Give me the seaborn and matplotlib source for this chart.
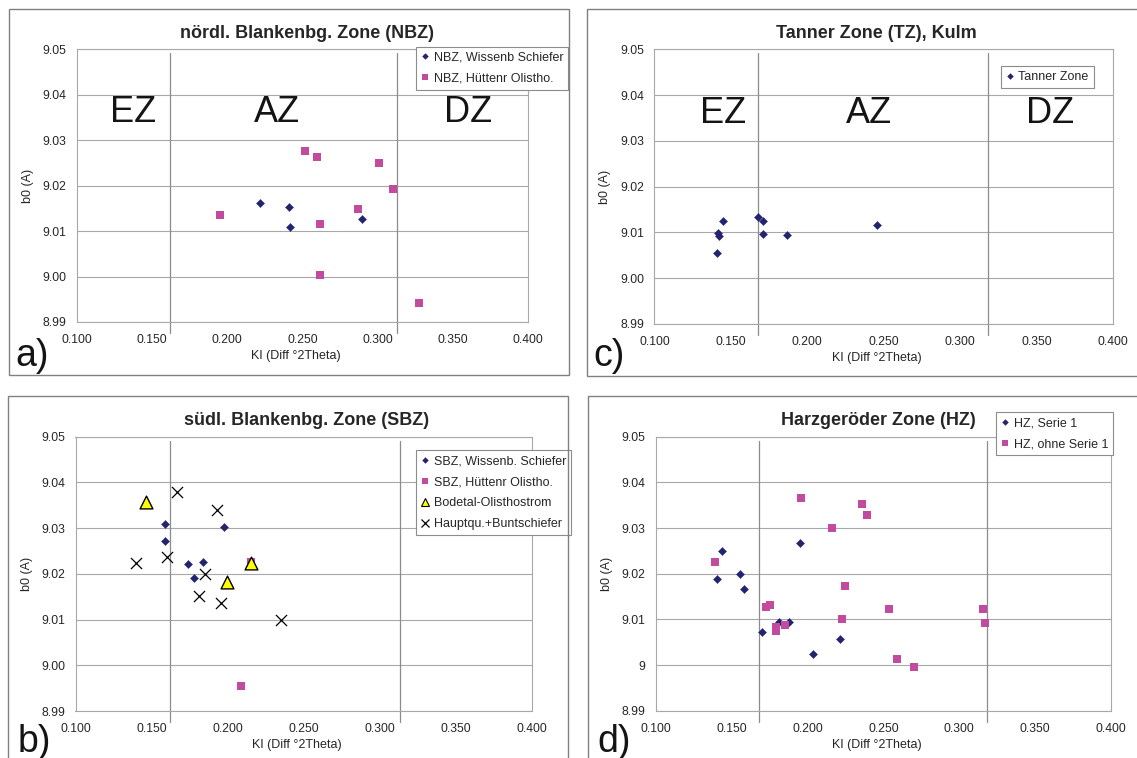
import numpy as np
import pandas as pd
import matplotlib
matplotlib.use("Agg")
import matplotlib.pyplot as plt
import seaborn as sns
from matplotlib.lines import Line2D
from matplotlib.patches import Rectangle

# ---------------- data ----------------
nbz_wiss_ki = [0.2217, 0.2409, 0.2418, 0.2896]
nbz_wiss_b0 = [9.0161, 9.0154, 9.0110, 9.0126]
nbz_huett_ki = [0.1951, 0.2517, 0.2594, 0.2618, 0.2618, 0.2867, 0.3011, 0.3099, 0.3272]
nbz_huett_b0 = [9.0136, 9.0277, 9.0264, 9.0116, 9.0004, 9.0149, 9.0250, 9.0192, 8.9942]

tz_ki = [0.1412, 0.1418, 0.1420, 0.1447, 0.1680, 0.1713, 0.1713, 0.1866, 0.2458]
tz_b0 = [9.0054, 9.0098, 9.0093, 9.0126, 9.0133, 9.0126, 9.0097, 9.0094, 9.0116]

sbz_wiss_ki = [0.1589, 0.1589, 0.1740, 0.1841, 0.1780, 0.1977]
sbz_wiss_b0 = [9.0308, 9.0272, 9.0222, 9.0225, 9.0192, 9.0302]
sbz_huett_ki = [0.2090, 0.2153]
sbz_huett_b0 = [8.9955, 9.0227]
bodetal_ki = [0.1464, 0.1999, 0.2153]
bodetal_b0 = [9.0358, 9.0183, 9.0223]
haupt_ki = [0.1396, 0.1604, 0.1670, 0.1854, 0.1815, 0.1933, 0.1955, 0.2351]
haupt_b0 = [9.0224, 9.0237, 9.0378, 9.0199, 9.0152, 9.0340, 9.0136, 9.0099]

hz1_ki = [0.1434, 0.1403, 0.1557, 0.1581, 0.1698, 0.1814, 0.1878, 0.1950, 0.2038, 0.2212]
hz1_b0 = [9.0250, 9.0188, 9.0200, 9.0167, 9.0073, 9.0095, 9.0095, 9.0268, 9.0024, 9.0058]
hz2_ki = [0.1386, 0.1724, 0.1752, 0.1792, 0.1795, 0.1848, 0.1958, 0.2159, 0.2246, 0.2226,
          0.2361, 0.2392, 0.2536, 0.2591, 0.2699, 0.3155, 0.3170]
hz2_b0 = [9.0225, 9.0128, 9.0132, 9.0084, 9.0074, 9.0087, 9.0366, 9.0301, 9.0172, 9.0101,
          9.0353, 9.0328, 9.0122, 9.0013, 8.9995, 9.0122, 9.0093]

x_ticks = [0.100, 0.150, 0.200, 0.250, 0.300, 0.350, 0.400]
y_ticks = [8.99, 9.00, 9.01, 9.02, 9.03, 9.04, 9.05]
y_labels_std = ["8.99", "9.00", "9.01", "9.02", "9.03", "9.04", "9.05"]
y_labels_hz = ["8.99", "9", "9.01", "9.02", "9.03", "9.04", "9.05"]
zone_names = ["EZ", "AZ", "DZ"]

# ---------------- style ----------------
sns.set_style("white")
plt.rcParams["font.family"] = ["Liberation Sans", "DejaVu Sans"]

NAVY = "#23236F"
MAG = "#C24A9F"
YEL = "#FFFF00"
GRID = "#A8A8A8"
FRAME = "#808080"

W, H = 1137, 758
fig = plt.figure(figsize=(W / 100, H / 100), dpi=100)


def add_axes_px(left, right, top, bottom):
    return fig.add_axes([left / W, 1 - bottom / H, (right - left) / W, (bottom - top) / H])


def style(ax, wpx, hpx, ylabels, zone_lines, zone_text_x, title, title_x, leg_handles, leg_anchor):
    ax.set_xlim(0.1, 0.4)
    ax.set_ylim(8.99, 9.05)
    ax.set_xticks(x_ticks)
    ax.set_xticklabels([f"{v:.3f}" for v in x_ticks], fontsize=8.7)
    ax.set_yticks(y_ticks)
    ax.set_yticklabels(ylabels, fontsize=8.7)
    ax.tick_params(axis="both", direction="out", length=3, width=0.8, color=GRID, pad=4.5)
    ax.tick_params(axis="x", pad=5.5)
    ax.yaxis.grid(True, color=GRID, lw=0.8)
    ax.xaxis.grid(False)
    ax.set_axisbelow(True)
    for sp in ax.spines.values():
        sp.set_color(GRID)
        sp.set_linewidth(0.8)
    for zx in zone_lines:
        ax.axvline(zx, ymin=-0.04, ymax=0.985, color="#8C8C8C", lw=0.9, clip_on=False, zorder=1)
    for name, tx in zip(zone_names, zone_text_x):
        ax.text(tx, 9.036, name, fontsize=26, ha="center", va="center", color="#141414")
    ax.text(title_x, 1 + 16 / hpx, title, transform=ax.transAxes, ha="center", va="center",
            fontsize=13, fontweight="bold")
    ax.set_xlabel("KI (Diff °2Theta)", fontsize=9)
    ax.xaxis.set_label_coords(0.485, -28 / hpx)
    ax.set_ylabel("b0 (A)", fontsize=9)
    ax.yaxis.set_label_coords(-43 / wpx, 0.5)
    leg = ax.legend(handles=leg_handles, loc="upper left", bbox_to_anchor=leg_anchor,
                    frameon=True, fancybox=False, edgecolor="#8C8C8C", framealpha=1,
                    fontsize=9, borderpad=0.4, labelspacing=0.72, handlelength=0.6,
                    handletextpad=0.4, borderaxespad=0)
    leg.get_frame().set_linewidth(0.8)
    leg.set_zorder(10)


def h_diamond(label):
    return Line2D([], [], marker="D", color=NAVY, linestyle="none", markersize=3.3,
                  markeredgewidth=0, label=label)


def h_square(label):
    return Line2D([], [], marker="s", color=MAG, linestyle="none", markersize=5,
                  markeredgewidth=0, label=label)


DS = 17   # diamond size
SS = 39   # square size

# ---------------- panel a ----------------
ax_a = add_axes_px(77, 528, 49.3, 322)
sns.scatterplot(x=nbz_wiss_ki, y=nbz_wiss_b0, ax=ax_a, marker="D", s=DS, color=NAVY,
                edgecolor=NAVY, linewidth=0.3, zorder=3, legend=False)
sns.scatterplot(x=nbz_huett_ki, y=nbz_huett_b0, ax=ax_a, marker="s", s=SS, color=MAG,
                edgecolor=MAG, linewidth=0, zorder=3, legend=False)
style(ax_a, 451, 272.7, y_labels_std, [0.162, 0.3126], [0.1370, 0.2332, 0.3603],
      "nördl. Blankenbg. Zone (NBZ)", 0.509,
      [h_diamond("NBZ, Wissenb Schiefer"), h_square("NBZ, Hüttenr Olistho.")],
      (0.7517, 1.0095))

# ---------------- panel c ----------------
ax_c = add_axes_px(654.4, 1113, 49.3, 324)
sns.scatterplot(x=tz_ki, y=tz_b0, ax=ax_c, marker="D", s=DS, color=NAVY,
                edgecolor=NAVY, linewidth=0.3, zorder=3, legend=False)
style(ax_c, 458.6, 274.7, y_labels_std, [0.168, 0.318], [0.1452, 0.2401, 0.3586],
      "Tanner Zone (TZ), Kulm", 0.485,
      [h_diamond("Tanner Zone")],
      (0.7557, 0.9393))

# ---------------- panel b ----------------
ax_b = add_axes_px(75.5, 531.5, 436.7, 711)
sns.scatterplot(x=sbz_wiss_ki, y=sbz_wiss_b0, ax=ax_b, marker="D", s=DS, color=NAVY,
                edgecolor=NAVY, linewidth=0.3, zorder=3, legend=False)
sns.scatterplot(x=sbz_huett_ki, y=sbz_huett_b0, ax=ax_b, marker="s", s=SS, color=MAG,
                edgecolor=MAG, linewidth=0, zorder=3, legend=False)
sns.scatterplot(x=bodetal_ki, y=bodetal_b0, ax=ax_b, marker="^", s=85, color=YEL,
                edgecolor="black", linewidth=1.0, zorder=4, legend=False)
sns.scatterplot(x=haupt_ki, y=haupt_b0, ax=ax_b, marker="x", s=64, color="black",
                linewidth=0.9, zorder=5, legend=False)
style(ax_b, 456, 274.3, y_labels_std, [0.1622, 0.3133], [],
      "südl. Blankenbg. Zone (SBZ)", 0.506,
      [h_diamond("SBZ, Wissenb. Schiefer"), h_square("SBZ, Hüttenr Olistho."),
       Line2D([], [], marker="^", color=YEL, markeredgecolor="black", markeredgewidth=0.8,
              linestyle="none", markersize=6, label="Bodetal-Olisthostrom"),
       Line2D([], [], marker="x", color="black", markeredgewidth=0.9,
              linestyle="none", markersize=5.5, label="Hauptqu.+Buntschiefer")],
      (0.747, 0.951))

# ---------------- panel d ----------------
ax_d = add_axes_px(656, 1110.7, 436.7, 710.7)
sns.scatterplot(x=hz1_ki, y=hz1_b0, ax=ax_d, marker="D", s=DS, color=NAVY,
                edgecolor=NAVY, linewidth=0.3, zorder=3, legend=False)
sns.scatterplot(x=hz2_ki, y=hz2_b0, ax=ax_d, marker="s", s=SS, color=MAG,
                edgecolor=MAG, linewidth=0, zorder=3, legend=False)
style(ax_d, 454.7, 274, y_labels_hz, [0.168, 0.3186], [],
      "Harzgeröder Zone (HZ)", 0.489,
      [h_diamond("HZ, Serie 1"), h_square("HZ, ohne Serie 1")],
      (0.7488, 1.0888))

# ---------------- frames and panel letters ----------------
def frame(x0, top, x1, bottom):
    fig.add_artist(Rectangle((x0 / W, 1 - bottom / H), (x1 - x0) / W, (bottom - top) / H,
                             transform=fig.transFigure, fill=False, edgecolor=FRAME, lw=1.0))

frame(9.3, 9.3, 568.7, 374.7)
frame(587, 9.3, 1160, 375.7)
frame(8.3, 395.7, 567.5, 780)
frame(588, 395.7, 1160, 780)

for lab, x, base in [("a)", 15, 366), ("c)", 593.5, 366), ("b)", 18, 752), ("d)", 597, 752)]:
    fig.text(x / W, 1 - base / H, lab, fontsize=27, ha="left", va="baseline", color="#141414")

fig.savefig("out.png", dpi=100)
